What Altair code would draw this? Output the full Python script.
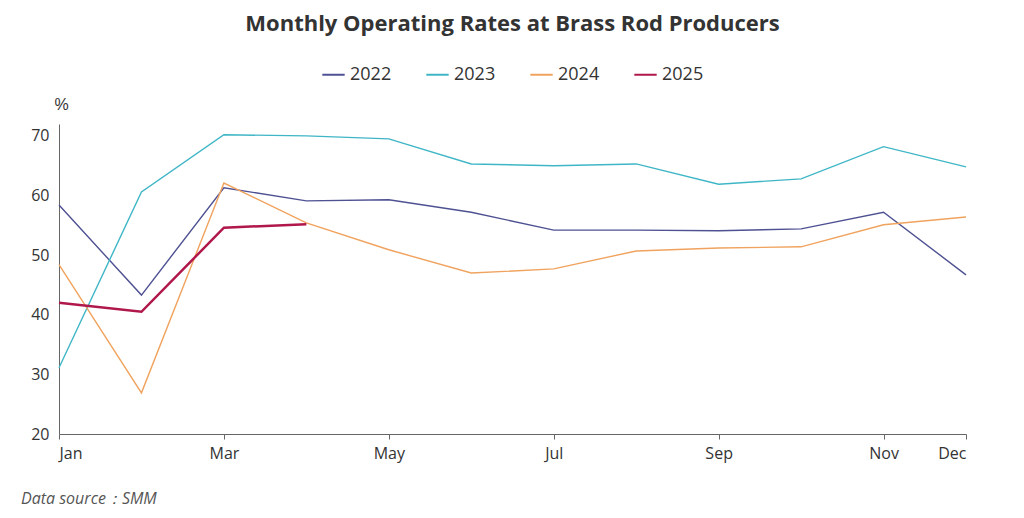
import altair as alt
import pandas as pd

months = list(range(1, 13))
y2022 = [58.4, 43.3, 61.3, 59.1, 59.3, 57.2, 54.2, 54.2, 54.1, 54.4, 57.2, 46.7]
y2023 = [31.1, 60.6, 70.2, 70.0, 69.5, 65.3, 65.0, 65.3, 61.9, 62.8, 68.2, 64.8]
y2024 = [48.4, 26.9, 62.1, 55.4, 50.9, 47.0, 47.7, 50.7, 51.2, 51.4, 55.1, 56.4]
y2025 = [42.0, 40.5, 54.6, 55.2]

rows = []
for yr, vals in [('2022', y2022), ('2023', y2023), ('2024', y2024), ('2025', y2025)]:
    for m, v in zip(months, vals):
        rows.append({'month': m, 'rate': v, 'year': yr})
df = pd.DataFrame(rows)

W, H = 907, 310
font = 'Open Sans'

lines = alt.Chart(df).mark_line().encode(
    x=alt.X('month:Q', scale=alt.Scale(domain=[1, 12], nice=False), title=None,
            axis=alt.Axis(values=[1, 3, 5, 7, 9, 11, 12], grid=False,
                          labelExpr="['','Jan','Feb','Mar','Apr','May','Jun','Jul','Aug','Sep','Oct','Nov','Dec'][datum.value]",
                          domainColor='#666', tickColor='#666', labelFontSize=16,
                          labelColor='#333', labelFont=font, labelPadding=6)),
    y=alt.Y('rate:Q', scale=alt.Scale(domain=[20, 72], nice=False),
            axis=alt.Axis(values=[20, 30, 40, 50, 60, 70], grid=False, ticks=False,
                          domainColor='#666', labelFontSize=16, labelColor='#333',
                          labelFont=font, labelPadding=10,
                          title='%', titleAngle=0, titleAlign='left', titleY=-12, titleX=-5,
                          titleFontWeight='normal', titleFontSize=16, titleColor='#333')),
    color=alt.Color('year:N', scale=alt.Scale(domain=['2022', '2023', '2024', '2025'],
                                              range=['#4e5192', '#3fb6c6', '#f0a35e', '#b0174a']),
                    legend=alt.Legend(orient='none', legendX=262, legendY=-62, direction='horizontal',
                                      title=None, symbolType='stroke',
                                      symbolStrokeWidth=2, labelFontSize=18, labelFont=font,
                                      labelColor='#333', symbolSize=500, columnPadding=30)),
    strokeWidth=alt.condition("datum.year == '2025'", alt.value(2.5), alt.value(1.4))
)

source = alt.Chart(pd.DataFrame({'t': ['Data source：SMM']})).mark_text(
    align='left', fontStyle='italic', fontSize=16, color='#555', font=font
).encode(x=alt.value(-38), y=alt.value(H + 65), text='t:N')

chart = alt.layer(lines, source).properties(
    width=W, height=H,
    padding={'left': 13, 'top': 5, 'right': 5, 'bottom': 5},
    title=alt.Title('Monthly Operating Rates at Brass Rod Producers', fontSize=22,
                    font=font, fontWeight='bold', color='#333', offset=26)
).configure_view(stroke=None)

chart.save("out.html", embed_options={"renderer": "svg", "actions": False})
